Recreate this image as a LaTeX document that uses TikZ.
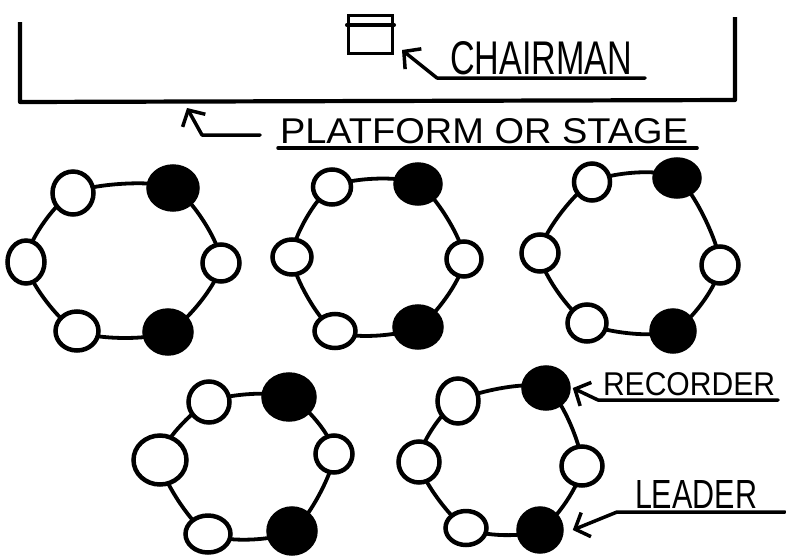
\documentclass[tikz,border=0pt]{standalone}
\usepackage{fontspec}
\setmainfont{Liberation Sans}
\usetikzlibrary{shapes.geometric,arrows.meta,backgrounds}
\tikzset{
  seat/.style={ellipse, draw, line width=4.5pt, fill=white, inner sep=0pt},
  wseat/.style={seat},
  bseat/.style={seat, fill=black},
  ringline/.style={line width=3.8pt},
  heavy/.style={line width=4.2pt, line join=round},
  ln/.style={line width=3.5pt, line cap=round, line join=round},
  arr/.style={ln, -{Straight Barb[length=12pt,width=26pt]}},
  lbl/.style={inner sep=0pt, outer sep=0pt, anchor=south west},
}
\newcommand\seatnode[6]{\node[#6, minimum width=#4pt, minimum height=#5pt] (#1) at (#2,#3) {};}
\begin{document}
\begin{tikzpicture}[x=1pt,y=-1pt]
\useasboundingbox (0,0) rectangle (786,557);
% platform
\coordinate (pTL) at (20,22);
\coordinate (pBL) at (20,102);
\coordinate (pBR) at (735,100);
\coordinate (pTR) at (735,17);
\draw[heavy] (pTL) -- (pBL) -- (pBR) -- (pTR);
% chairman
\node[draw, line width=3.5pt, minimum width=44pt, minimum height=38pt, inner sep=0pt] (chair) at (370.5,34.5) {};
\draw[ln] (chair.west |- 0,25) -- (chair.east |- 0,25);
\node[lbl] (chl) at (450,75) {\resizebox{182pt}{33pt}{CHAIRMAN}};
\coordinate (chbend) at (437,78);
\coordinate (chtip) at (402,50);
\draw[arr] ([xshift=13pt,yshift=-3pt]chl.south east) -- (chbend) -- (chtip);
% platform label
\node[lbl] (plat) at (280,144) {\resizebox{408pt}{25pt}{PLATFORM OR STAGE}};
\draw[ln] ([xshift=-2pt,yshift=-4pt]plat.south west) -- ([xshift=9pt,yshift=-4pt]plat.south east);
\coordinate (ptip) at (187,108);
\coordinate (pbend) at (202,135);
\coordinate (ptail) at (260,135);
\draw[arr] (ptail) -- (pbend) -- (ptip);
% group 1
\seatnode{g1a}{73}{193}{41}{43}{wseat}
\seatnode{g1b}{173}{188}{49}{43}{bseat}
\seatnode{g1c}{221}{263}{37}{37}{wseat}
\seatnode{g1d}{168}{332}{47}{43}{bseat}
\seatnode{g1e}{77}{331}{43}{39}{wseat}
\seatnode{g1f}{26}{262}{37}{43}{wseat}
% group 2
\seatnode{g2a}{332}{187}{38}{35}{wseat}
\seatnode{g2b}{418}{184}{45}{39}{bseat}
\seatnode{g2c}{464}{259}{35}{35}{wseat}
\seatnode{g2d}{418}{327}{47}{41}{bseat}
\seatnode{g2e}{335}{331}{41}{34}{wseat}
\seatnode{g2f}{292}{257}{39}{35}{wseat}
% group 3
\seatnode{g3a}{592}{182}{36}{37}{wseat}
\seatnode{g3b}{677}{178}{45}{37}{bseat}
\seatnode{g3c}{720}{265}{37}{37}{wseat}
\seatnode{g3d}{673}{331}{43}{41}{bseat}
\seatnode{g3e}{587}{323}{39}{37}{wseat}
\seatnode{g3f}{540}{253}{37}{37}{wseat}
% group 4
\seatnode{g4a}{209}{402}{41}{41}{wseat}
\seatnode{g4b}{289}{397}{51}{45}{bseat}
\seatnode{g4c}{334}{454}{37}{37}{wseat}
\seatnode{g4d}{292}{531}{47}{45}{bseat}
\seatnode{g4e}{208}{534}{45}{37}{wseat}
\seatnode{g4f}{160}{460}{53}{49}{wseat}
% group 5
\seatnode{g5a}{458}{401}{41}{45}{wseat}
\seatnode{g5b}{546}{388}{45}{41}{bseat}
\seatnode{g5c}{582}{466}{41}{39}{wseat}
\seatnode{g5d}{540}{530}{43}{43}{bseat}
\seatnode{g5e}{466}{528}{41}{34}{wseat}
\seatnode{g5f}{419}{462}{41}{41}{wseat}
\begin{scope}[on background layer]
\fill[white] (0,0) rectangle (786,557);
\foreach \g in {1,...,5}{
  \draw[ringline] plot[smooth cycle, tension=0.45] coordinates {(g\g a.center) (g\g b.center) (g\g c.center) (g\g d.center) (g\g e.center) (g\g f.center)};
}
\end{scope}
% recorder
\node[lbl] (rec) at (603,396) {\resizebox{172pt}{23pt}{RECORDER}};
\coordinate (recbend) at (598,400);
\draw[arr] ([xshift=3pt,yshift=-4pt]rec.south east) -- (recbend) -- ([xshift=2pt]g5b.east);
% leader
\node[lbl] (lead) at (635,508) {\resizebox{122pt}{28pt}{LEADER}};
\coordinate (ldbend) at (617,512);
\draw[arr] ([xshift=28pt,yshift=-4pt]lead.south east) -- (ldbend) -- ([xshift=9pt]g5d.east);
\end{tikzpicture}
\end{document}
